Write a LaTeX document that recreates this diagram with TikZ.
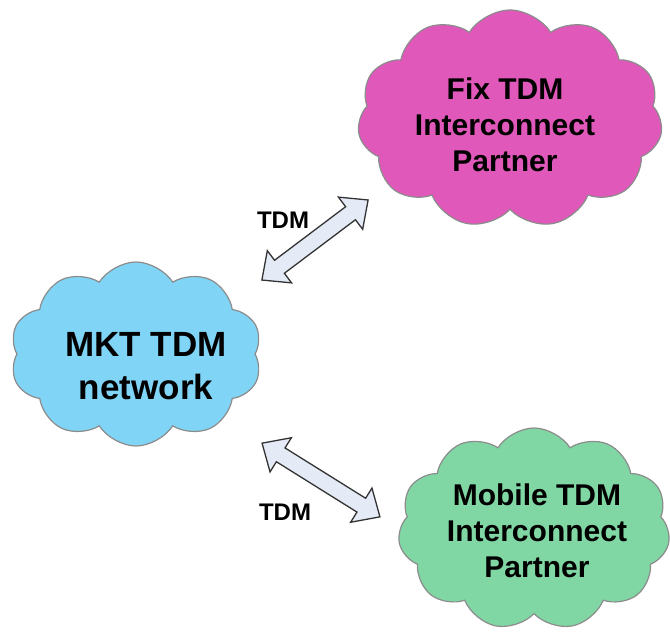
\documentclass[tikz,border=0pt]{standalone}
\usepackage{fontspec}
\setmainfont{Liberation Sans}
\usetikzlibrary{shapes.symbols,shapes.arrows,calc}
\definecolor{cloudblue}{HTML}{80D4F6}
\definecolor{cloudpink}{HTML}{E058B9}
\definecolor{cloudgreen}{HTML}{80D7A4}
\definecolor{cloudline}{HTML}{8C8C8C}
\definecolor{arrowfill}{HTML}{E4EBF6}
\definecolor{arrowline}{HTML}{333333}
\tikzset{
  cloudbox/.style={cloud, cloud puffs=10, cloud puff arc=115, cloud ignores aspect,
    draw=cloudline, line width=1.2pt, inner sep=0pt},
  cloudtext/.style={align=center, inner sep=0pt, font=\bfseries},
  tdmarrow/.style={double arrow, draw=arrowline, fill=arrowfill, line width=1.3pt,
    inner xsep=0pt, inner ysep=7.5pt, double arrow head extend=12pt, double arrow tip angle=85},
  tdmlabel/.style={inner sep=0pt, font=\fontsize{24}{28}\selectfont\bfseries}
}
\begin{document}
\begin{tikzpicture}[x=1pt,y=-1pt]
\useasboundingbox (0,0) rectangle (670,634);
% clouds
\node[cloudbox, fill=cloudblue, minimum width=252pt, minimum height=184pt] (mkt) at (136,354) {};
\node[cloudbox, fill=cloudpink, cloud puffs=11, minimum width=305pt, minimum height=218pt] (fix) at (510,119) {};
\node[cloudbox, fill=cloudgreen, cloud puffs=11, minimum width=272pt, minimum height=202pt] (mob) at (534,529) {};
% texts
\node[cloudtext, font=\fontsize{35}{43}\selectfont\bfseries] (mktt) at (146,366) {MKT TDM\\network};
\node[cloudtext, font=\fontsize{30}{36}\selectfont\bfseries] (fixt) at (505,125) {Fix TDM\\Interconnect\\Partner};
\node[cloudtext, font=\fontsize{30}{36}\selectfont\bfseries] (mobt) at (537,531) {Mobile TDM\\Interconnect\\Partner};
% arrows
\coordinate (a1) at (262,280);
\coordinate (a2) at (368,200);
\coordinate (b1) at (262,443);
\coordinate (b2) at (380,517);
\node[tdmarrow, minimum height=133pt, rotate=37] (arrA) at ($(a1)!0.5!(a2)$) {};
\node[tdmarrow, minimum height=139pt, rotate=-32] (arrB) at ($(b1)!0.5!(b2)$) {};
% labels
\node[tdmlabel] (lA) at (283,220) {TDM};
\node[tdmlabel] (lB) at (285,512) {TDM};
\end{tikzpicture}
\end{document}
